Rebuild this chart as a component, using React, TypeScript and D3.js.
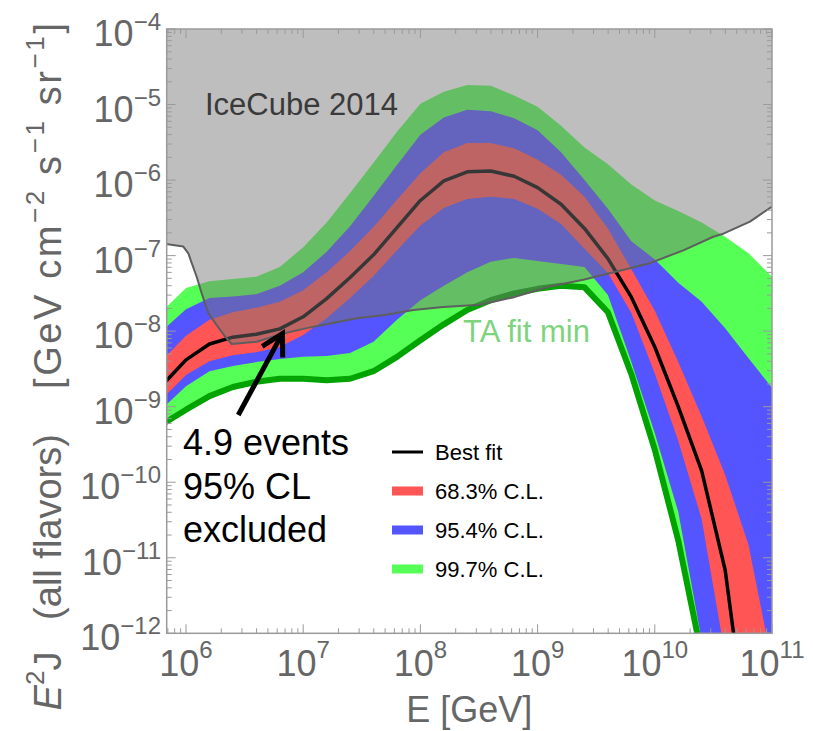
import React from "react";
import * as d3 from "d3";

// energy grid, log10(E / GeV)
const logE = [5.8, 6.0, 6.2, 6.4, 6.6, 6.8, 7.0, 7.2, 7.4, 7.6, 7.8, 8.0, 8.2, 8.4, 8.6, 8.8, 9.0, 9.2, 9.4, 9.6, 9.8, 10.0, 10.2, 10.4, 10.6, 10.8, 11.0];

// log10(E^2 J)
const bestFit = [-8.71, -8.38, -8.17, -8.08, -8.04, -7.97, -7.81, -7.57, -7.29, -6.99, -6.63, -6.27, -6.01, -5.89, -5.88, -5.95, -6.10, -6.32, -6.64, -7.04, -7.55, -8.21, -9.0, -9.85, -11.16, -13.5, -15.0];
const cl68Upper = [-8.38, -8.06, -7.85, -7.75, -7.69, -7.61, -7.46, -7.22, -6.94, -6.62, -6.26, -5.91, -5.63, -5.51, -5.51, -5.58, -5.73, -5.93, -6.22, -6.64, -7.18, -7.73, -8.41, -9.13, -9.9, -10.83, -12.39];
const cl68Lower = [-8.89, -8.58, -8.4, -8.32, -8.28, -8.21, -8.05, -7.83, -7.56, -7.27, -6.93, -6.6, -6.37, -6.25, -6.22, -6.25, -6.38, -6.58, -6.91, -7.23, -7.76, -8.56, -9.45, -10.49, -12.29, -14.0, -16.0];
const cl95Upper = [-7.99, -7.71, -7.56, -7.54, -7.51, -7.4, -7.22, -6.95, -6.61, -6.21, -5.8, -5.4, -5.17, -5.07, -5.09, -5.18, -5.34, -5.63, -6.0, -6.38, -6.81, -7.05, -7.36, -7.61, -7.96, -8.36, -8.75];
const cl95Lower = [-9.02, -8.73, -8.53, -8.46, -8.41, -8.37, -8.34, -8.33, -8.29, -8.14, -7.85, -7.59, -7.4, -7.22, -7.08, -7.03, -7.07, -7.11, -7.15, -7.52, -8.41, -9.35, -10.39, -12.09, -13.9, -15.5, -17.0];
const cl997Upper = [-7.73, -7.43, -7.34, -7.31, -7.28, -7.15, -6.89, -6.56, -6.17, -5.77, -5.36, -4.99, -4.83, -4.74, -4.75, -4.88, -5.03, -5.28, -5.57, -5.79, -6.06, -6.27, -6.41, -6.56, -6.75, -6.97, -7.28];
// TA fit min = lower edge of the 99.7% band
const taFitMin = [-9.23, -9.04, -8.86, -8.74, -8.67, -8.63, -8.63, -8.65, -8.63, -8.53, -8.34, -8.12, -7.91, -7.72, -7.59, -7.5, -7.44, -7.4, -7.42, -7.75, -8.57, -9.57, -10.77, -12.29, -14.2, -16.0, -18.0];

// IceCube 2014 limit
const iceLogE = [5.8, 5.977, 6.02, 6.049, 6.091, 6.134, 6.19, 6.262, 6.333, 6.39, 6.603, 6.83, 7.03, 7.229, 7.457, 7.683, 7.939, 8.195, 8.509, 8.8, 9.106, 9.39, 9.675, 9.959, 10.243, 10.499, 10.585, 10.812, 11.0];
const iceLogJ = [-6.84, -6.88, -6.97, -7.1, -7.28, -7.5, -7.76, -7.92, -8.07, -8.17, -8.14, -8.03, -7.96, -7.9, -7.83, -7.79, -7.72, -7.68, -7.65, -7.55, -7.41, -7.32, -7.21, -7.1, -6.93, -6.75, -6.71, -6.55, -6.35];

const xTickExps = [6, 7, 8, 9, 10, 11];
const yTickExps = [-12, -11, -10, -9, -8, -7, -6, -5, -4];

const legendItems = [
  { label: "Best fit", color: "#000000", kind: "line" },
  { label: "68.3% C.L.", color: "#ff5555", kind: "box" },
  { label: "95.4% C.L.", color: "#5555ff", kind: "box" },
  { label: "99.7% C.L.", color: "#55ff55", kind: "box" },
];

const noteLines = ["4.9 events", "95% CL", "excluded"];

const FONT = "'Liberation Sans', Arial, Helvetica, sans-serif";
const W = 813, H = 731;
const frame = { left: 166.7, right: 772, top: 29, bottom: 633.3 };
const minus = (n: number) => (n < 0 ? "\u2212" + Math.abs(n) : String(n));

export default function App() {
  const x = d3.scaleLog().domain([Math.pow(10, 5.8353), 1e11]).range([frame.left, frame.right]);
  const y = d3.scaleLog().domain([1e-12, 1e-4]).range([frame.bottom, frame.top]);
  const px = (lg: number) => x(Math.pow(10, lg));
  const py = (lg: number) => y(Math.pow(10, lg));

  const idx = logE.map((_, i) => i);
  const band = (lo: number[], hi: number[]) =>
    d3.area<number>().x(i => px(logE[i])).y0(i => py(lo[i])).y1(i => py(hi[i]))(idx) || "";
  const line = (vals: number[]) => d3.line<number>().x(i => px(logE[i])).y(i => py(vals[i]))(idx) || "";

  const iceIdx = iceLogE.map((_, i) => i);
  const iceArea = d3.area<number>().x(i => px(iceLogE[i])).y0(i => py(iceLogJ[i])).y1(() => frame.top - 5)(iceIdx) || "";
  const iceLine = d3.line<number>().x(i => px(iceLogE[i])).y(i => py(iceLogJ[i]))(iceIdx) || "";

  // ticks
  const xTicks: { v: number; major: boolean }[] = [];
  for (let d = 5; d <= 10; d++) for (let k = 1; k <= 9; k++) {
    const v = k * Math.pow(10, d);
    if (v >= x.domain()[0] && v <= 1e11) xTicks.push({ v, major: k === 1 });
  }
  xTicks.push({ v: 1e11, major: true });
  const yTicks: { v: number; major: boolean }[] = [];
  for (let d = -12; d <= -5; d++) for (let k = 1; k <= 9; k++) yTicks.push({ v: k * Math.pow(10, d), major: k === 1 });
  yTicks.push({ v: 1e-4, major: true });

  // arrow (data coords for tail and tip)
  const tail = [px(6.446), py(-9.11)];
  const tip = [px(6.823), py(-8.03)];
  const ang = Math.atan2(tail[1] - tip[1], tail[0] - tip[0]);
  const headLen = 24, spread = Math.PI / 6.2;
  const arm = (s: number) => [tip[0] + headLen * Math.cos(ang + s), tip[1] + headLen * Math.sin(ang + s)];
  const a1 = arm(spread), a2 = arm(-spread);

  const tickColor = "#9a9a9a";
  const labelColor = "#666666";

  return (
    <svg width={W} height={H} style={{ position: "absolute", left: 0, top: 0, background: "#fff" }} fontFamily={FONT}>
      <defs>
        <clipPath id="plotClip">
          <rect x={frame.left} y={frame.top} width={frame.right - frame.left} height={frame.bottom - frame.top} />
        </clipPath>
      </defs>
      <rect x={0} y={0} width={W} height={H} fill="#fff" />

      <g clipPath="url(#plotClip)">
        <path d={band(taFitMin, cl997Upper)} fill="#55ff55" />
        <path d={band(cl95Lower, cl95Upper)} fill="#5555ff" />
        <path d={band(cl68Lower, cl68Upper)} fill="#ff5555" />
        <path d={line(bestFit)} fill="none" stroke="#000" strokeWidth={3.5} strokeLinejoin="round" />
        <path d={line(taFitMin)} fill="none" stroke="#00a300" strokeWidth={6} strokeLinejoin="round" />
        <path d={iceArea} fill="#757575" fillOpacity={0.47} />
        <path d={iceLine} fill="none" stroke="#5e5e5e" strokeWidth={2} strokeLinejoin="round" />
      </g>

      {/* frame and ticks */}
      <rect x={frame.left} y={frame.top} width={frame.right - frame.left} height={frame.bottom - frame.top}
        fill="none" stroke={tickColor} strokeWidth={1.5} />
      {xTicks.map((t, i) => {
        const X = x(t.v), len = t.major ? 9 : 5;
        return (
          <g key={"xt" + i} stroke={tickColor} strokeWidth={1}>
            <line x1={X} x2={X} y1={frame.bottom} y2={frame.bottom - len} />
            <line x1={X} x2={X} y1={frame.top} y2={frame.top + len} />
          </g>
        );
      })}
      {yTicks.map((t, i) => {
        const Y = y(t.v), len = t.major ? 9 : 5;
        return (
          <g key={"yt" + i} stroke={tickColor} strokeWidth={1}>
            <line x1={frame.left} x2={frame.left + len} y1={Y} y2={Y} />
            <line x1={frame.right} x2={frame.right - len} y1={Y} y2={Y} />
          </g>
        );
      })}

      {/* tick labels */}
      {xTickExps.map(e => (
        <text key={"xl" + e} x={x(Math.pow(10, e))} y={676} textAnchor="middle" fill={labelColor} fontSize={36}>
          <tspan>10</tspan>
          <tspan fontSize={24} dy={-18}>{minus(e)}</tspan>
        </text>
      ))}
      {yTickExps.map(e => (
        <text key={"yl" + e} x={161} y={y(Math.pow(10, e)) + 17} textAnchor="end" fill={labelColor} fontSize={36}>
          <tspan>10</tspan>
          <tspan fontSize={24} dy={-16}>{minus(e)}</tspan>
        </text>
      ))}

      {/* axis titles */}
      <text x={(frame.left + frame.right) / 2} y={722} textAnchor="middle" fill={labelColor} fontSize={36}>E [GeV]</text>
      <g fill={labelColor} fontSize={38}>
        <text transform="translate(61,681) rotate(-90)" textAnchor="middle">
          <tspan fontStyle="italic">E</tspan>
          <tspan fontSize={26} dy={-17}>2</tspan>
          <tspan dy={17}>J</tspan>
        </text>
        <text transform="translate(61,527) rotate(-90)" textAnchor="middle">(all flavors)</text>
        <text transform="translate(61,206) rotate(-90)" textAnchor="middle" textLength={366} lengthAdjust="spacing">
          <tspan>[GeV cm</tspan>
          <tspan fontSize={26} dy={-17}>{"\u22122"}</tspan>
          <tspan dy={17}> s</tspan>
          <tspan fontSize={26} dy={-17}>{"\u22121"}</tspan>
          <tspan dy={17}> sr</tspan>
          <tspan fontSize={26} dy={-17}>{"\u22121"}</tspan>
          <tspan dy={17}>]</tspan>
        </text>
      </g>

      {/* annotations */}
      <text x={205} y={115} fontSize={31} fill="#3a3a3a">IceCube 2014</text>
      <text x={463} y={341.5} fontSize={31} fill="#7ed47e">TA fit min</text>

      <g stroke="#000" strokeWidth={5} fill="none">
        <line x1={tail[0]} y1={tail[1]} x2={tip[0]} y2={tip[1]} />
        <polyline points={`${a1[0]},${a1[1]} ${tip[0]},${tip[1]} ${a2[0]},${a2[1]}`} strokeLinejoin="miter" />
      </g>
      {noteLines.map((s, i) => (
        <text key={s} x={183} y={455 + i * 43.5} fontSize={36} fill="#000">{s}</text>
      ))}

      {/* legend */}
      {legendItems.map((it, i) => {
        const base = 460 + i * 39;
        return (
          <g key={it.label}>
            {it.kind === "line"
              ? <line x1={392} x2={423} y1={base - 8} y2={base - 8} stroke={it.color} strokeWidth={3} />
              : <rect x={392} y={base - 12.5} width={31} height={9} fill={it.color} />}
            <text x={435} y={base} fontSize={22} fill="#000">{it.label}</text>
          </g>
        );
      })}
    </svg>
  );
}
